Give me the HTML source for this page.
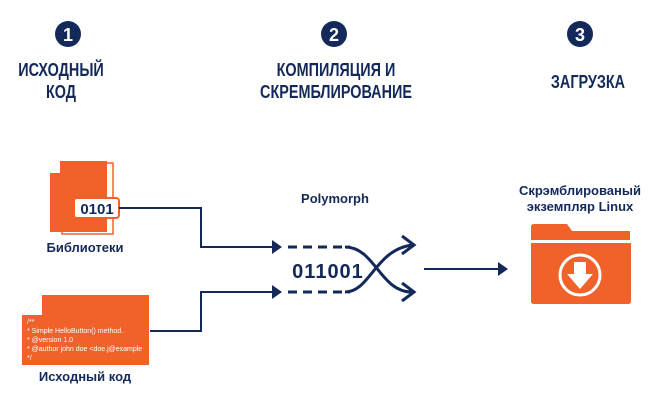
<!DOCTYPE html>
<html><head><meta charset="utf-8"><style>
body{margin:0;background:#fff;width:670px;height:400px;overflow:hidden;position:relative;font-family:"Liberation Sans",sans-serif;color:#13295a}
.t{position:absolute;font-weight:bold;text-align:center;white-space:nowrap}
.h{font-size:18px;line-height:22px;transform:scaleX(0.8);transform-origin:center top}
</style></head><body>
<svg width="670" height="400" style="position:absolute;left:0;top:0">
<g fill="#13295a">
<circle cx="68" cy="34" r="13"/><circle cx="334" cy="34" r="13"/><circle cx="580" cy="34" r="13"/>
</g>
<g fill="#fff" font-family="Liberation Sans" font-weight="bold" font-size="18" text-anchor="middle">
<text x="68" y="41">1</text><text x="334" y="41">2</text><text x="580" y="41">3</text>
</g>
<path d="M62 163 H113 V234 H62 Z" fill="#fff" stroke="#f0622a" stroke-width="1.5"/>
<path d="M60 161 H107 V232 H50 V173 Z" fill="#f0622a"/>
<path d="M50 173 L60 161 V173 Z" fill="#fff"/>
<rect x="74" y="198" width="45" height="20" rx="3" fill="#fff" stroke="#f0622a" stroke-width="2"/>
<text x="97" y="214" font-family="Liberation Sans" font-weight="bold" font-size="15" fill="#13295a" text-anchor="middle">0101</text>
<path d="M42 295 H149 V365 H22 V315 Z" fill="#f0622a"/>
<path d="M22 315 L42 295 V315 Z" fill="#fff"/>
<g font-family="Liberation Sans" font-size="7" fill="#fff">
<text x="27" y="324">/**</text>
<text x="27" y="333">* Simple HelloButton() method.</text>
<text x="27" y="342">* @version 1.0</text>
<text x="27" y="351">* @author john doe &lt;doe.j@example</text>
<text x="27" y="360">*/</text>
</g>
<g stroke="#13295a" stroke-width="2" fill="none">
<path d="M119 208 H201 V247 H274"/>
<path d="M150 331 H201 V292 H274"/>
<path d="M288 247 H350" stroke-dasharray="9 6" stroke-width="3"/>
<path d="M288 292 H350" stroke-dasharray="9 6" stroke-width="3"/>
<path d="M345 247 C375 247 380 292 412 292" stroke-width="3"/>
<path d="M345 292 C370 292 375 250 412 245" stroke-width="3"/>
<path d="M402 236 L414 245 L402 254" stroke-width="3"/>
<path d="M402 283 L414 292 L402 301" stroke-width="3"/>
<path d="M424 269 H500"/>
</g>
<g fill="#13295a">
<path d="M272 240 L282 247 L272 254 Z"/><path d="M272 285 L282 292 L272 299 Z"/>
<path d="M498 262 L508 269 L498 276 Z"/>
</g>
<text x="328" y="278" font-family="Liberation Sans" font-weight="bold" font-size="20" fill="#13295a" text-anchor="middle" letter-spacing="1">011001</text>
<path d="M531 227 Q531 224 534 224 H567 L572 231 H630 V240 H531 Z" fill="#f0622a"/>
<path d="M531 243 H631 V301 Q631 304 628 304 H534 Q531 304 531 301 Z" fill="#f0622a"/>
<circle cx="580" cy="275" r="20" fill="none" stroke="#fff" stroke-width="3"/>
<path d="M574 262 H586 V274 H593 L580 289 L567 274 H574 Z" fill="#fff"/>
</svg>
<div class="t h" style="left:0px;width:122px;top:59px">ИСХОДНЫЙ<br>КОД</div>
<div class="t h" style="left:222px;width:228px;top:59px">КОМПИЛЯЦИЯ И<br>СКРЕМБЛИРОВАНИЕ</div>
<div class="t h" style="left:530px;width:116px;top:71px">ЗАГРУЗКА</div>
<div class="t" style="left:30px;width:110px;top:240px;font-size:13px">Библиотеки</div>
<div class="t" style="left:30px;width:110px;top:369px;font-size:13px">Исходный код</div>
<div class="t" style="left:285px;width:100px;top:191px;font-size:13px">Polymorph</div>
<div class="t" style="left:500px;width:160px;top:183px;font-size:13px;line-height:16px">Скрэмблированый<br>экземпляр Linux</div>
</body></html>
